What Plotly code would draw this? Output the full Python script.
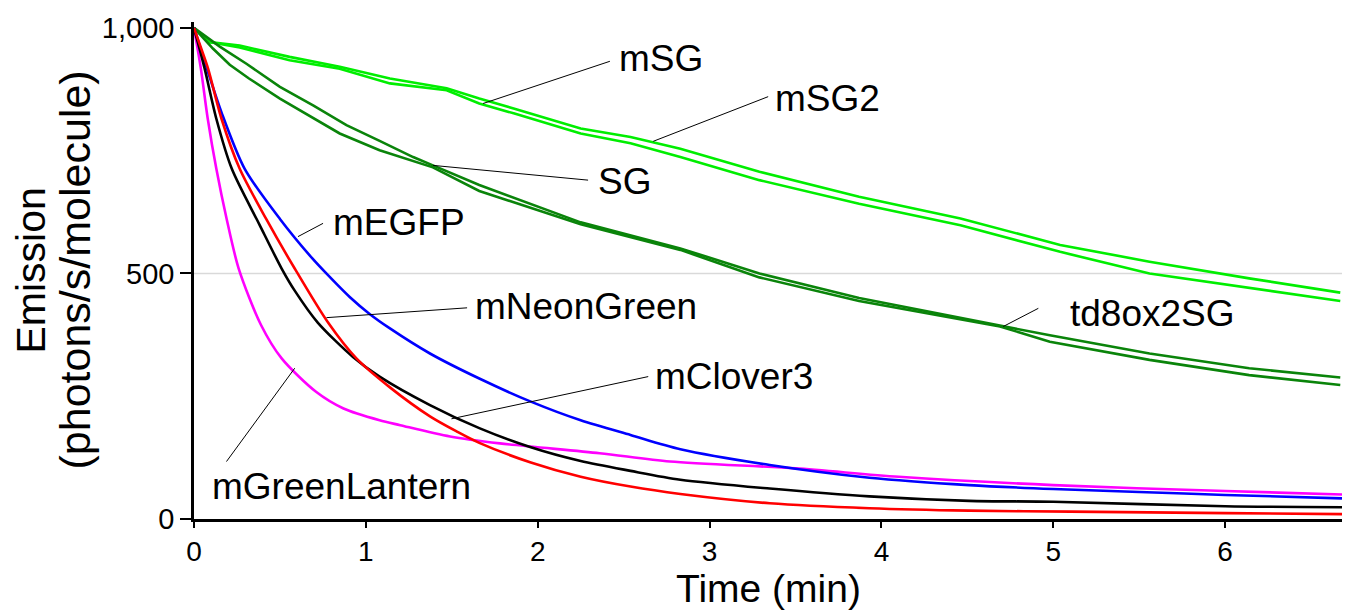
import plotly.graph_objects as go

# ---------------- data ----------------
t_mSG = [0, 0.09, 0.266, 0.556, 0.848, 1.14, 1.47, 1.66, 1.86, 2.25, 2.54, 2.83, 3.29, 3.87, 4.46, 5.04, 5.56, 6.14, 6.67]
v_mSG = [1000, 971, 964, 941, 921, 897, 877, 856, 836, 795, 778, 754, 707, 656, 612, 558, 524, 490, 461]

t_mSG2 = [0, 0.09, 0.266, 0.556, 0.848, 1.14, 1.47, 1.66, 1.86, 2.25, 2.54, 2.83, 3.29, 3.87, 4.46, 5.04, 5.56, 6.14, 6.67]
v_mSG2 = [1000, 971, 960, 934, 917, 887, 873, 846, 826, 785, 765, 737, 690, 642, 598, 544, 500, 470, 444]

t_SG = [0, 0.15, 0.305, 0.5, 0.693, 0.887, 1.08, 1.275, 1.39, 1.66, 2.25, 2.83, 3.02, 3.29, 3.87, 4.65, 4.98, 5.56, 6.14, 6.67]
v_SG = [1000, 962, 927, 880, 842, 802, 770, 737, 720, 680, 604, 551, 530, 500, 450, 397, 374, 337, 307, 288]

t_td8 = [0, 0.11, 0.208, 0.32, 0.5, 0.73, 0.848, 1.08, 1.39, 1.66, 2.25, 2.83, 3.29, 3.87, 4.69, 4.98, 5.56, 6.14, 6.67]
v_td8 = [1000, 958, 925, 897, 856, 808, 785, 751, 716, 668, 600, 548, 492, 444, 392, 361, 324, 293, 273]

t_mEGFP = [0, 0.08, 0.16, 0.295, 0.5, 0.69, 0.77, 0.906, 1.02, 1.14, 1.373, 1.66, 1.96, 2.25, 2.54, 2.83, 3.35, 3.93, 4.51, 5.0, 5.5, 6.0, 6.68]
v_mEGFP = [1000, 912, 828, 713, 611, 530, 500, 452, 418, 388, 337, 286, 239, 201, 171, 142, 110, 84, 69, 61, 55, 49, 42]

t_mNeon = [0, 0.04, 0.082, 0.16, 0.266, 0.42, 0.586, 0.78, 0.945, 1.14, 1.373, 1.53, 1.66, 1.96, 2.25, 2.54, 2.83, 3.35, 3.93, 4.51, 5.1, 6.0, 6.68]
v_mNeon = [1000, 960, 917, 815, 713, 611, 510, 400, 327, 268, 209, 178, 155, 115, 86, 66, 51, 32, 22, 17, 15, 12, 10]

t_mClover = [0, 0.062, 0.13, 0.22, 0.38, 0.51, 0.586, 0.72, 0.925, 1.08, 1.373, 1.66, 1.96, 2.25, 2.54, 2.83, 3.35, 3.93, 4.51, 5.0, 6.0, 6.68]
v_mClover = [1000, 917, 815, 713, 600, 510, 465, 400, 330, 290, 232, 185, 146, 118, 98, 80, 62, 46, 37, 35, 26, 24]

t_mGL = [0, 0.04, 0.08, 0.13, 0.19, 0.26, 0.39, 0.51, 0.71, 0.87, 1.08, 1.2, 1.49, 1.78, 2.36, 2.77, 3.5, 4.1, 5.0, 6.0, 6.68]
v_mGL = [1000, 917, 815, 713, 611, 510, 395, 327, 259, 225, 201, 191, 168, 154, 134, 117, 103, 86, 69, 57, 50]

x_ticks = [0, 1, 2, 3, 4, 5, 6]
y_ticks = [0, 500, 1000]
y_tick_labels = ["0", "500", "1,000"]

FONT = "Liberation Sans, Arial, sans-serif"
LIGHT = "#00ee00"
DARK = "#0a840a"

series = [
    ("mSG", t_mSG, v_mSG, LIGHT, "linear"),
    ("mSG2", t_mSG2, v_mSG2, LIGHT, "linear"),
    ("SG", t_SG, v_SG, DARK, "linear"),
    ("td8ox2SG", t_td8, v_td8, DARK, "linear"),
    ("mGreenLantern", t_mGL, v_mGL, "#ff00ff", "spline"),
    ("mEGFP", t_mEGFP, v_mEGFP, "#0000ff", "spline"),
    ("mClover3", t_mClover, v_mClover, "#000000", "spline"),
    ("mNeonGreen", t_mNeon, v_mNeon, "#ff0000", "spline"),
]

fig = go.Figure()
for name, t, v, c, shp in series:
    fig.add_trace(go.Scatter(x=t, y=v, mode="lines", name=name,
                             line=dict(color=c, width=2.6, shape=shp, smoothing=0.8),
                             showlegend=False))

# label leaders: (text, line start (near text), line end (on curve), text anchor point)
labels = [
    ("mSG", (2.420, 932), (1.682, 846), (2.459, 937)),
    ("mSG2", (3.341, 860), (2.672, 769), (3.368, 856)),
    ("SG", (2.293, 690), (1.391, 720), (2.338, 687)),
    ("mEGFP", (0.751, 602), (0.605, 575), (0.800, 604)),
    ("mNeonGreen", (1.589, 430), (0.771, 410), (1.624, 432)),
    ("mClover3", (2.643, 290), (1.498, 204), (2.670, 290)),
    ("mGreenLantern", (0.189, 117), (0.586, 307), (0.091, 66)),
    ("td8ox2SG", (4.913, 429), (4.709, 392), (5.087, 419)),
]
shapes = [dict(type="line", xref="paper", yref="y", x0=0, x1=1, y0=500, y1=500,
               line=dict(color="#d9d9d9", width=1.5), layer="below")]
annotations = []
for txt, p0, p1, pt in labels:
    shapes.append(dict(type="line", xref="x", yref="y", x0=p0[0], y0=p0[1], x1=p1[0], y1=p1[1],
                       line=dict(color="black", width=1)))
    annotations.append(dict(text=txt, x=pt[0], y=pt[1], xref="x", yref="y", xanchor="left",
                            yanchor="middle", showarrow=False,
                            font=dict(family=FONT, size=37, color="black")))

PLOT_H = 610 - 22 - 91
annotations.append(dict(text="Emission", xref="paper", yref="paper", x=(30 - 194) / 1148,
                        y=0.5, xanchor="center", yanchor="middle", textangle=-90, showarrow=False,
                        font=dict(family=FONT, size=41, color="black")))
annotations.append(dict(text="(photons/s/molecule)", xref="paper", yref="paper", x=(74 - 194) / 1148,
                        y=0.5, xanchor="center", yanchor="middle", textangle=-90, showarrow=False,
                        font=dict(family=FONT, size=43, color="black")))
annotations.append(dict(text="Time (min)", xref="paper", yref="paper", x=0.5,
                        y=-(588 - 519) / PLOT_H, xanchor="center", yanchor="middle", showarrow=False,
                        font=dict(family=FONT, size=39, color="black")))

fig.update_layout(
    width=1349, height=610,
    margin=dict(l=194, r=7, t=22, b=91),
    paper_bgcolor="white", plot_bgcolor="white",
    shapes=shapes, annotations=annotations,
    font=dict(family=FONT, color="black"),
    xaxis=dict(range=[0, 6.68], tickvals=x_ticks, showgrid=False, zeroline=False,
               showline=True, linecolor="black", linewidth=2.5, ticks="outside",
               ticklen=6, tickwidth=2, tickcolor="black",
               tickfont=dict(family=FONT, size=28, color="black")),
    yaxis=dict(range=[0, 1012], tickvals=y_ticks, ticktext=y_tick_labels, showgrid=False,
               zeroline=False, showline=True, linecolor="black", linewidth=2.5,
               ticks="outside", ticklen=11, tickwidth=2, tickcolor="black",
               tickfont=dict(family=FONT, size=29, color="black")),
)

fig.write_html("out.html")
